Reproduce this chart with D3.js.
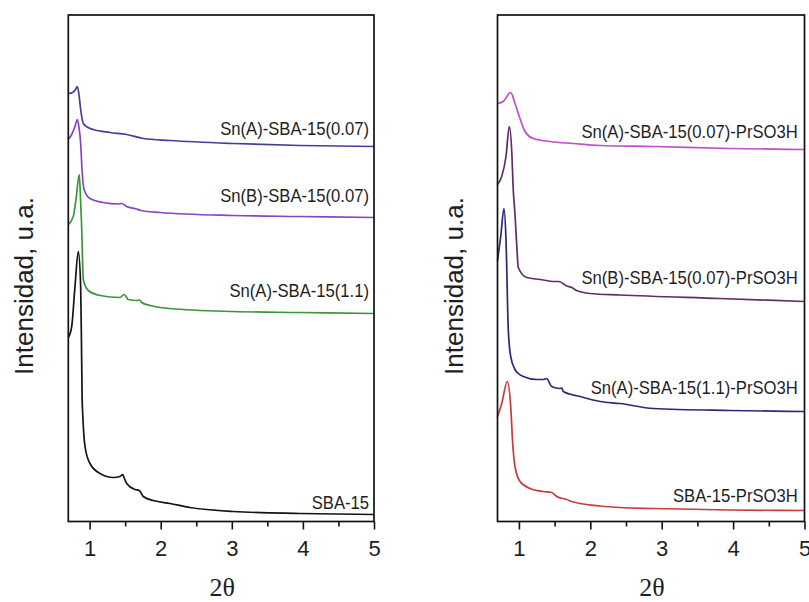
<!DOCTYPE html>
<html>
<head>
<meta charset="utf-8">
<script src="https://cdn.jsdelivr.net/npm/d3@7"></script>
<style>
  html, body { margin: 0; padding: 0; background: #fff; }
  text { font-family: "Liberation Sans", Arial, Helvetica, sans-serif; fill: #1e1e1e; }
</style>
</head>
<body>
<svg id="fig" width="809" height="602"></svg>
<script>
// Low-angle XRD patterns, 2θ (degrees) vs. intensity (a.u., stacked with vertical offsets)

// --- left panel: Sn-SBA-15 materials ---
const snA007_2t = [0.70, 0.762, 0.801, 0.827, 0.850, 0.874, 0.911, 0.977, 1.052, 1.286, 1.521, 1.755, 2.130, 3.016, 3.959, 5.0];
const snA007_I  = [428, 429, 432, 435, 427, 412, 398, 394, 392, 389, 387, 383, 381, 378, 376, 375];

const snB007_2t = [0.70, 0.748, 0.794, 0.827, 0.851, 0.874, 0.893, 0.921, 1.005, 1.192, 1.40, 1.45, 1.52, 1.662, 1.72, 1.990, 3.016, 3.959, 5.0];
const snB007_I  = [382, 387, 395, 402, 394, 378, 352, 332, 323, 319, 317.5, 318, 315, 312.5, 311, 309, 306, 305, 304];

const snA11_2t = [0.70, 0.770, 0.808, 0.855, 0.872, 0.889, 0.900, 0.911, 0.981, 1.146, 1.427, 1.484, 1.544, 1.662, 1.701, 1.732, 1.849, 2.130, 3.016, 3.959, 5.0];
const snA11_I  = [297, 305, 322, 347, 322, 292, 262, 242, 231, 226, 224, 227, 222, 221, 221.5, 219, 216, 213, 210, 209, 208];

const sba15_2t = [0.70, 0.748, 0.794, 0.841, 0.874, 0.888, 0.895, 0.902, 0.935, 1.005, 1.146, 1.333, 1.427, 1.465, 1.484, 1.521, 1.638, 1.698, 1.755, 1.896, 2.130, 2.411, 3.016, 3.959, 5.0];
const sba15_I  = [184, 195, 235, 270, 235, 162, 122, 109, 75, 58, 48, 44, 45, 47, 44, 38, 32, 31, 25, 21, 18, 14, 10, 8, 7];

// --- right panel: propylsulfonic-functionalised materials ---
const snA007P_2t = [0.70, 0.781, 0.885, 0.945, 1.015, 1.085, 1.201, 1.435, 1.762, 2.136, 2.878, 3.956, 5.0];
const snA007P_I  = [418, 420, 429, 418, 403, 390, 383, 380, 378, 376, 375, 373, 372];

const snB007P_2t = [0.70, 0.759, 0.819, 0.865, 0.903, 0.917, 0.945, 0.973, 0.991, 1.109, 1.295, 1.50, 1.56, 1.669, 1.739, 1.809, 1.996, 2.416, 3.816, 5.0];
const snB007P_I  = [337, 345, 365, 395, 365, 337, 307, 272, 254, 244, 242, 240, 240, 235.5, 234, 231, 228, 226.5, 223, 220];

const snA11P_2t = [0.70, 0.745, 0.791, 0.819, 0.851, 0.885, 0.945, 0.991, 1.061, 1.249, 1.341, 1.389, 1.459, 1.575, 1.60, 1.621, 1.855, 2.136, 2.416, 2.882, 3.956, 5.0];
const snA11P_I  = [261, 285, 313, 282, 192, 165, 152, 148, 145, 142, 142, 143, 135, 133, 133.5, 130, 125, 120, 118, 113, 111, 110];

const sba15P_2t = [0.70, 0.759, 0.837, 0.885, 0.913, 0.945, 1.015, 1.155, 1.341, 1.459, 1.529, 1.669, 1.739, 1.855, 2.136, 2.416, 2.882, 3.956, 5.0];
const sba15P_I  = [105, 118, 140, 115, 78, 55, 40, 33, 30, 29, 25, 22, 20, 18, 15.5, 14, 13, 11.5, 11];

// axis ticks and titles
const majorTicks = [1, 2, 3, 4, 5];
const minorTicks = [1.5, 2.5, 3.5, 4.5];
const xTitle = "2";
const xTitleSymbol = "θ";
const yTitle = "Intensidad, u.a.";
const xDomain = [0.7, 5];
const yDomain = [0, 506.5];

const zip = (xs, ys) => xs.map((x, i) => [x, ys[i]]);

const panels = [
  {
    x0: 68.3, x1: 374, yTitleX: 33, labelX: 4.93,
    series: [
      { name: "Sn(A)-SBA-15(0.07)", pts: zip(snA007_2t, snA007_I), color: "#3f3f9c", labelY: 386.5 },
      { name: "Sn(B)-SBA-15(0.07)", pts: zip(snB007_2t, snB007_I), color: "#8446c6", labelY: 320 },
      { name: "Sn(A)-SBA-15(1.1)",  pts: zip(snA11_2t, snA11_I),   color: "#3a963a", labelY: 225 },
      { name: "SBA-15",             pts: zip(sba15_2t, sba15_I),   color: "#141414", labelY: 13 }
    ]
  },
  {
    x0: 497.5, x1: 804.5, yTitleX: 463, labelX: 4.905,
    series: [
      { name: "Sn(A)-SBA-15(0.07)-PrSO3H", pts: zip(snA007P_2t, snA007P_I), color: "#c24ccb", labelY: 384 },
      { name: "Sn(B)-SBA-15(0.07)-PrSO3H", pts: zip(snB007P_2t, snB007P_I), color: "#5e2e64", labelY: 238 },
      { name: "Sn(A)-SBA-15(1.1)-PrSO3H",  pts: zip(snA11P_2t, snA11P_I),   color: "#2a2a78", labelY: 127.5 },
      { name: "SBA-15-PrSO3H",             pts: zip(sba15P_2t, sba15P_I),   color: "#cc3a3a", labelY: 20 }
    ]
  }
];

const svg = d3.select("#fig");
const plotTop = 15, plotBottom = 521.5;

panels.forEach(p => {
  const x = d3.scaleLinear().domain(xDomain).range([p.x0, p.x1]);
  const y = d3.scaleLinear().domain(yDomain).range([plotBottom, plotTop]);
  const g = svg.append("g");

  // curves
  const line = d3.line()
    .x(d => x(d[0]))
    .y(d => y(d[1]))
    .curve(d3.curveMonotoneX);

  g.selectAll("path.trace")
    .data(p.series)
    .join("path")
    .attr("class", "trace")
    .attr("d", s => line(s.pts))
    .attr("fill", "none")
    .attr("stroke", s => s.color)
    .attr("stroke-width", 1.7)
    .attr("stroke-linejoin", "round");

  // series names, right-aligned near the end of each trace
  g.selectAll("text.name")
    .data(p.series)
    .join("text")
    .attr("class", "name")
    .attr("transform", s => `translate(${x(p.labelX)},${y(s.labelY)}) scale(0.9,1)`)
    .attr("text-anchor", "end")
    .style("font-size", "18.5px")
    .text(s => s.name);

  // frame
  g.append("rect")
    .attr("x", p.x0).attr("y", plotTop)
    .attr("width", p.x1 - p.x0).attr("height", plotBottom - plotTop)
    .attr("fill", "none")
    .attr("stroke", "#111")
    .attr("stroke-width", 1.7);

  // bottom axis: major ticks with labels, minor ticks without
  const major = g.append("g")
    .attr("transform", `translate(0,${plotBottom})`)
    .call(d3.axisBottom(x).tickValues(majorTicks).tickSize(8).tickPadding(11).tickFormat(d3.format("d")));
  const minor = g.append("g")
    .attr("transform", `translate(0,${plotBottom})`)
    .call(d3.axisBottom(x).tickValues(minorTicks).tickSize(5).tickFormat(""));
  [major, minor].forEach(a => {
    a.select(".domain").remove();
    a.selectAll("line").attr("stroke", "#111").attr("stroke-width", 1.6);
  });
  major.selectAll("text")
    .attr("fill", "#1e1e1e")
    .style("font-family", '"Liberation Sans", Arial, sans-serif')
    .style("font-size", "22px");

  // axis titles
  const xt = g.append("text")
    .attr("x", (p.x0 + p.x1) / 2 + 1)
    .attr("y", 596)
    .attr("text-anchor", "middle")
    .style("font-family", '"Liberation Serif", "Times New Roman", serif')
    .style("font-size", "26px");
  xt.append("tspan").text(xTitle);
  xt.append("tspan").text(xTitleSymbol);

  g.append("text")
    .attr("transform", `translate(${p.yTitleX},286) rotate(-90)`)
    .attr("text-anchor", "middle")
    .style("font-size", "26px")
    .text(yTitle);
});
</script>
</body>
</html>
